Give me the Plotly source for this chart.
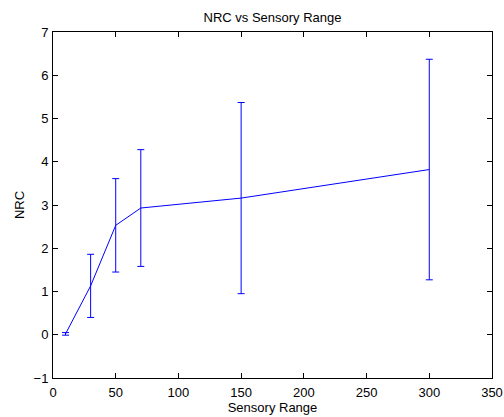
import plotly.graph_objects as go

# Mean NRC and spread at each sensory range
sensory_range = [10, 30, 50, 70, 150, 300]
nrc_mean = [0.02, 1.13, 2.53, 2.93, 3.16, 3.82]
nrc_err = [0.03, 0.73, 1.08, 1.35, 2.21, 2.55]

x_ticks = [0, 50, 100, 150, 200, 250, 300, 350]
y_ticks = [-1, 0, 1, 2, 3, 4, 5, 6, 7]

font = dict(family="Liberation Sans, Arial, sans-serif", size=13, color="black")

fig = go.Figure(
    go.Scatter(
        x=sensory_range,
        y=nrc_mean,
        mode="lines",
        line=dict(color="#0000ff", width=1),
        error_y=dict(type="data", array=nrc_err, color="#0000ff",
                     thickness=1, width=3.5),
        showlegend=False,
    )
)

axis_common = dict(
    showline=True, linecolor="black", linewidth=1, mirror="ticks",
    ticks="inside", ticklen=5, tickcolor="black", tickwidth=1,
    showgrid=False, zeroline=False, tickfont=font, automargin=False,
)

fig.update_xaxes(range=[0, 350], tickvals=x_ticks, **axis_common,
                 ticklabelstandoff=2,
                 title=dict(text="Sensory Range", font=font, standoff=0))
fig.update_yaxes(range=[-1, 7], tickvals=y_ticks, **axis_common,
                 ticklabelstandoff=1,
                 title=dict(text="NRC", font=font, standoff=6))

fig.update_layout(
    width=504, height=417,
    margin=dict(l=53, r=12, t=32, b=39),
    paper_bgcolor="white", plot_bgcolor="white",
    font=font,
    title=dict(text="NRC vs Sensory Range", xref="paper", x=0.5,
               xanchor="center", y=1 - 17 / 417, yanchor="middle", font=font),
)

fig.write_html("out.html")
